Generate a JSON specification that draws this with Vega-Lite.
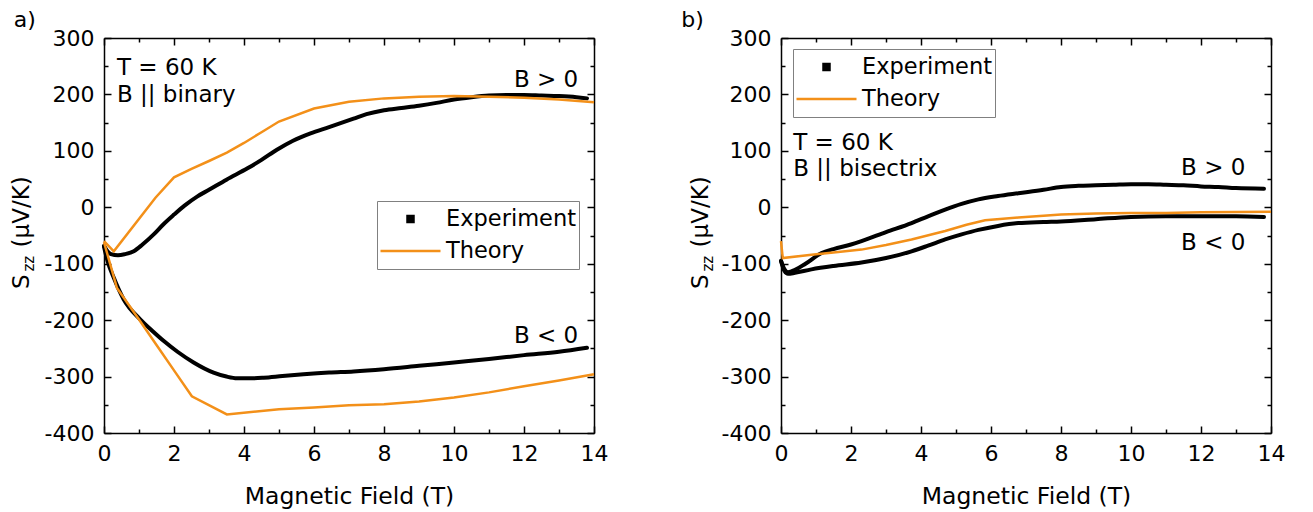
{
  "$schema": "https://vega.github.io/schema/vega-lite/v6.json",
  "padding": {"left": 10, "top": 8, "right": 5, "bottom": 5},
  "config": {
    "font": "DejaVu Sans",
    "view": {"stroke": null},
    "axis": {"labelFont": "DejaVu Sans", "titleFont": "DejaVu Sans", "labelColor": "black", "titleColor": "black", "domainColor": "black", "tickColor": "black", "domainWidth": 1.5, "tickWidth": 1.5, "grid": false, "labelFontSize": 22, "titleFontSize": 23.5, "titleFontWeight": "normal"},
    "text": {"font": "DejaVu Sans", "color": "black"}
  },
  "datasets": {
    "expA": [
      {"t":0,"v":-68,"b":"pos"},{"t":0.1,"v":-78,"b":"pos"},{"t":0.2,"v":-83,"b":"pos"},{"t":0.4,"v":-85,"b":"pos"},{"t":0.6,"v":-83,"b":"pos"},{"t":0.85,"v":-78,"b":"pos"},{"t":1.1,"v":-66,"b":"pos"},{"t":1.42,"v":-48,"b":"pos"},{"t":1.7,"v":-30,"b":"pos"},{"t":2,"v":-13,"b":"pos"},{"t":2.3,"v":3,"b":"pos"},{"t":2.66,"v":19,"b":"pos"},{"t":3,"v":31,"b":"pos"},{"t":3.5,"v":49,"b":"pos"},{"t":4.1,"v":69,"b":"pos"},{"t":4.5,"v":84,"b":"pos"},{"t":4.94,"v":102,"b":"pos"},{"t":5.4,"v":118,"b":"pos"},{"t":5.9,"v":131,"b":"pos"},{"t":6.43,"v":142,"b":"pos"},{"t":7.13,"v":157,"b":"pos"},{"t":7.5,"v":165,"b":"pos"},{"t":8,"v":172,"b":"pos"},{"t":8.5,"v":176,"b":"pos"},{"t":9,"v":180,"b":"pos"},{"t":9.5,"v":185,"b":"pos"},{"t":10,"v":191,"b":"pos"},{"t":10.5,"v":195,"b":"pos"},{"t":11,"v":198,"b":"pos"},{"t":11.5,"v":199,"b":"pos"},{"t":12,"v":199,"b":"pos"},{"t":12.5,"v":198,"b":"pos"},{"t":13,"v":197,"b":"pos"},{"t":13.5,"v":195,"b":"pos"},{"t":13.8,"v":193,"b":"pos"},
      {"t":0,"v":-70,"b":"neg"},{"t":0.1,"v":-95,"b":"neg"},{"t":0.28,"v":-125,"b":"neg"},{"t":0.56,"v":-163,"b":"neg"},{"t":1.04,"v":-199,"b":"neg"},{"t":1.4,"v":-220,"b":"neg"},{"t":1.71,"v":-237,"b":"neg"},{"t":2.1,"v":-256,"b":"neg"},{"t":2.56,"v":-275,"b":"neg"},{"t":3.13,"v":-293,"b":"neg"},{"t":3.5,"v":-300,"b":"neg"},{"t":3.8,"v":-303,"b":"neg"},{"t":4.2,"v":-303,"b":"neg"},{"t":4.56,"v":-302,"b":"neg"},{"t":5.1,"v":-299,"b":"neg"},{"t":5.7,"v":-296,"b":"neg"},{"t":6.43,"v":-293,"b":"neg"},{"t":7.13,"v":-291,"b":"neg"},{"t":8,"v":-287,"b":"neg"},{"t":9,"v":-281,"b":"neg"},{"t":10,"v":-275,"b":"neg"},{"t":11,"v":-269,"b":"neg"},{"t":12,"v":-262,"b":"neg"},{"t":13,"v":-256,"b":"neg"},{"t":13.8,"v":-249,"b":"neg"}
    ],
    "thA": [
      {"t":0,"v":-60,"b":"pos"},{"t":0.28,"v":-78,"b":"pos"},{"t":1.47,"v":17,"b":"pos"},{"t":2,"v":53,"b":"pos"},{"t":2.5,"v":68,"b":"pos"},{"t":3,"v":82,"b":"pos"},{"t":3.51,"v":97,"b":"pos"},{"t":4,"v":114,"b":"pos"},{"t":4.5,"v":133,"b":"pos"},{"t":5,"v":152,"b":"pos"},{"t":6,"v":175,"b":"pos"},{"t":7,"v":187,"b":"pos"},{"t":8,"v":193,"b":"pos"},{"t":9,"v":196,"b":"pos"},{"t":10,"v":197,"b":"pos"},{"t":11,"v":196,"b":"pos"},{"t":12,"v":194,"b":"pos"},{"t":13,"v":191,"b":"pos"},{"t":14,"v":186,"b":"pos"},
      {"t":0,"v":-62,"b":"neg"},{"t":0.37,"v":-143,"b":"neg"},{"t":1,"v":-199,"b":"neg"},{"t":1.5,"v":-244,"b":"neg"},{"t":2,"v":-289,"b":"neg"},{"t":2.51,"v":-335,"b":"neg"},{"t":3.51,"v":-367,"b":"neg"},{"t":5,"v":-358,"b":"neg"},{"t":6,"v":-355,"b":"neg"},{"t":7,"v":-351,"b":"neg"},{"t":8,"v":-349,"b":"neg"},{"t":9,"v":-344,"b":"neg"},{"t":10,"v":-337,"b":"neg"},{"t":11,"v":-328,"b":"neg"},{"t":12,"v":-317,"b":"neg"},{"t":13,"v":-307,"b":"neg"},{"t":14,"v":-296,"b":"neg"}
    ],
    "expB": [
      {"t":0,"v":-95,"b":"pos"},{"t":0.1,"v":-110,"b":"pos"},{"t":0.2,"v":-115,"b":"pos"},{"t":0.4,"v":-111,"b":"pos"},{"t":0.7,"v":-100,"b":"pos"},{"t":1.16,"v":-81,"b":"pos"},{"t":1.5,"v":-74,"b":"pos"},{"t":2,"v":-66,"b":"pos"},{"t":2.3,"v":-60,"b":"pos"},{"t":3,"v":-44,"b":"pos"},{"t":3.73,"v":-28,"b":"pos"},{"t":4.2,"v":-16,"b":"pos"},{"t":4.69,"v":-4,"b":"pos"},{"t":5.16,"v":6,"b":"pos"},{"t":5.64,"v":14,"b":"pos"},{"t":6.2,"v":20,"b":"pos"},{"t":6.78,"v":25,"b":"pos"},{"t":7.5,"v":31,"b":"pos"},{"t":8,"v":36,"b":"pos"},{"t":8.5,"v":38,"b":"pos"},{"t":9,"v":39,"b":"pos"},{"t":9.5,"v":40,"b":"pos"},{"t":10,"v":41,"b":"pos"},{"t":10.5,"v":41,"b":"pos"},{"t":11,"v":40,"b":"pos"},{"t":11.5,"v":39,"b":"pos"},{"t":12,"v":37,"b":"pos"},{"t":12.5,"v":36,"b":"pos"},{"t":13,"v":34,"b":"pos"},{"t":13.8,"v":33,"b":"pos"},
      {"t":0,"v":-95,"b":"neg"},{"t":0.1,"v":-113,"b":"neg"},{"t":0.2,"v":-118,"b":"neg"},{"t":0.4,"v":-116,"b":"neg"},{"t":0.87,"v":-110,"b":"neg"},{"t":1.5,"v":-104,"b":"neg"},{"t":2.3,"v":-98,"b":"neg"},{"t":3,"v":-90,"b":"neg"},{"t":3.73,"v":-78,"b":"neg"},{"t":4.2,"v":-68,"b":"neg"},{"t":4.69,"v":-57,"b":"neg"},{"t":5.16,"v":-48,"b":"neg"},{"t":5.64,"v":-40,"b":"neg"},{"t":6.2,"v":-33,"b":"neg"},{"t":6.78,"v":-28,"b":"neg"},{"t":7.5,"v":-26,"b":"neg"},{"t":8,"v":-25,"b":"neg"},{"t":9,"v":-21,"b":"neg"},{"t":10,"v":-17,"b":"neg"},{"t":11,"v":-16,"b":"neg"},{"t":12,"v":-16,"b":"neg"},{"t":13,"v":-16,"b":"neg"},{"t":13.8,"v":-17,"b":"neg"}
    ],
    "thB": [
      {"t":0,"v":-60,"b":"one"},{"t":0.05,"v":-90,"b":"one"},{"t":0.87,"v":-84,"b":"one"},{"t":1.5,"v":-80,"b":"one"},{"t":2.3,"v":-75,"b":"one"},{"t":3,"v":-67,"b":"one"},{"t":3.73,"v":-57,"b":"one"},{"t":4.69,"v":-42,"b":"one"},{"t":5.3,"v":-31,"b":"one"},{"t":5.83,"v":-23,"b":"one"},{"t":6.78,"v":-18,"b":"one"},{"t":7.5,"v":-15,"b":"one"},{"t":8,"v":-13,"b":"one"},{"t":9,"v":-11,"b":"one"},{"t":10,"v":-10,"b":"one"},{"t":11,"v":-10,"b":"one"},{"t":12,"v":-9,"b":"one"},{"t":13,"v":-8.5,"b":"one"},{"t":14,"v":-8,"b":"one"}
    ]
  },
  "hconcat": [
    {
      "width": 490, "height": 395,
      "layer": [
        {"data": {"name": "expA"}, "mark": {"type": "line", "strokeWidth": 4, "interpolate": "monotone", "strokeCap": "round", "strokeJoin": "round"},
         "encoding": {
           "x": {"field": "t", "type": "quantitative", "scale": {"domain": [0, 14], "nice": false, "zero": false},
                 "axis": {"orient": "bottom", "values": [0,1,2,3,4,5,6,7,8,9,10,11,12,13,14], "tickSize": {"condition": {"test": "datum.value % 2 === 0", "value": -7}, "value": -4}, "labelExpr": "datum.value % 2 === 0 ? '' + datum.value : ''", "labelPadding": 17, "labelOverlap": false, "labelFlush": false, "title": "Magnetic Field (T)", "titlePadding": 17}},
           "y": {"field": "v", "type": "quantitative", "scale": {"domain": [-400, 300], "nice": false, "zero": false},
                 "axis": {"orient": "left", "values": [-400,-350,-300,-250,-200,-150,-100,-50,0,50,100,150,200,250,300], "tickSize": {"condition": {"test": "datum.value % 100 === 0", "value": -7}, "value": -4}, "labelExpr": "datum.value % 100 === 0 ? '' + datum.value : ''", "labelPadding": 17, "labelOverlap": false, "labelFlush": false, "title": null}},
           "detail": {"field": "b"},
           "color": {"datum": "Experiment", "type": "nominal", "scale": {"domain": ["Experiment", "Theory"], "range": ["#000000", "#f39019"]},
                     "legend": {"title": null, "orient": "none", "legendX": 273, "legendY": 163, "direction": "vertical", "symbolType": "stroke", "symbolSize": 3600, "symbolStrokeWidth": 2.5, "clipHeight": 32, "padding": 2, "rowPadding": 0, "labelFont": "DejaVu Sans", "labelFontSize": 22.5, "labelColor": "black", "labelOffset": 4, "labelLimit": 400, "strokeColor": "#808080", "fillColor": "white",
                                "encode": {"symbols": {"update": {"shape": {"signal": "datum.value === 'Experiment' ? 'M-0.1,-0.1H0.1V0.1H-0.1Z' : 'stroke'"}, "fill": {"signal": "datum.value === 'Experiment' ? 'black' : 'transparent'"}, "stroke": {"signal": "datum.value === 'Experiment' ? 'transparent' : '#f39019'"}, "strokeWidth": {"value": 2.5}, "opacity": {"value": 1}}}}}}
         }},
        {"data": {"name": "thA"}, "mark": {"type": "line", "strokeWidth": 2.5},
         "encoding": {
           "x": {"field": "t", "type": "quantitative", "scale": {"domain": [0, 14], "nice": false, "zero": false},
                 "axis": {"orient": "top", "values": [0,1,2,3,4,5,6,7,8,9,10,11,12,13,14], "tickSize": {"condition": {"test": "datum.value % 2 === 0", "value": -7}, "value": -4}, "labels": false, "title": null}},
           "y": {"field": "v", "type": "quantitative", "scale": {"domain": [-400, 300], "nice": false, "zero": false},
                 "axis": {"orient": "right", "values": [-400,-350,-300,-250,-200,-150,-100,-50,0,50,100,150,200,250,300], "tickSize": {"condition": {"test": "datum.value % 100 === 0", "value": -7}, "value": -4}, "labels": false, "title": null}},
           "detail": {"field": "b"},
           "color": {"datum": "Theory", "type": "nominal", "legend": null}
         }},
        {"data": {"values": [{}]}, "mark": {"type": "text", "text": "T = 60 K", "fontSize": 23, "align": "left", "baseline": "alphabetic"},
         "encoding": {"x": {"datum": 0.37, "type": "quantitative", "axis": null}, "y": {"datum": 234, "type": "quantitative", "axis": null}}},
        {"data": {"values": [{}]}, "mark": {"type": "text", "text": "B || binary", "fontSize": 23, "align": "left", "baseline": "alphabetic"},
         "encoding": {"x": {"datum": 0.37, "type": "quantitative", "axis": null}, "y": {"datum": 186, "type": "quantitative", "axis": null}}},
        {"data": {"values": [{}]}, "mark": {"type": "text", "text": "B > 0", "fontSize": 23, "align": "center", "baseline": "alphabetic"},
         "encoding": {"x": {"datum": 12.63, "type": "quantitative", "axis": null}, "y": {"datum": 214, "type": "quantitative", "axis": null}}},
        {"data": {"values": [{}]}, "mark": {"type": "text", "text": "B < 0", "fontSize": 23, "align": "center", "baseline": "alphabetic"},
         "encoding": {"x": {"datum": 12.63, "type": "quantitative", "axis": null}, "y": {"datum": -240, "type": "quantitative", "axis": null}}},
        {"data": {"values": [{}]}, "mark": {"type": "text", "text": "a)", "fontSize": 22, "align": "left", "baseline": "alphabetic"},
         "encoding": {"x": {"datum": -2.58, "type": "quantitative", "axis": null}, "y": {"datum": 320, "type": "quantitative", "axis": null}}},
        {"data": {"values": [{}]}, "mark": {"type": "text", "text": "S", "fontSize": 23, "angle": 270, "align": "center", "baseline": "alphabetic"},
         "encoding": {"x": {"datum": -2.15, "type": "quantitative", "axis": null}, "y": {"datum": -132, "type": "quantitative", "axis": null}}},
        {"data": {"values": [{}]}, "mark": {"type": "text", "text": "zz", "fontSize": 15, "angle": 270, "align": "center", "baseline": "alphabetic"},
         "encoding": {"x": {"datum": -2.0, "type": "quantitative", "axis": null}, "y": {"datum": -100, "type": "quantitative", "axis": null}}},
        {"data": {"values": [{}]}, "mark": {"type": "text", "text": "(μV/K)", "fontSize": 23, "angle": 270, "align": "center", "baseline": "alphabetic"},
         "encoding": {"x": {"datum": -2.15, "type": "quantitative", "axis": null}, "y": {"datum": -8, "type": "quantitative", "axis": null}}}
      ],
      "resolve": {"axis": {"x": "independent", "y": "independent"}}
    },
    {
      "width": 490, "height": 395,
      "layer": [
        {"data": {"name": "expB"}, "mark": {"type": "line", "strokeWidth": 4, "interpolate": "monotone", "strokeCap": "round", "strokeJoin": "round"},
         "encoding": {
           "x": {"field": "t", "type": "quantitative", "scale": {"domain": [0, 14], "nice": false, "zero": false},
                 "axis": {"orient": "bottom", "values": [0,1,2,3,4,5,6,7,8,9,10,11,12,13,14], "tickSize": {"condition": {"test": "datum.value % 2 === 0", "value": -7}, "value": -4}, "labelExpr": "datum.value % 2 === 0 ? '' + datum.value : ''", "labelPadding": 17, "labelOverlap": false, "labelFlush": false, "title": "Magnetic Field (T)", "titlePadding": 17}},
           "y": {"field": "v", "type": "quantitative", "scale": {"domain": [-400, 300], "nice": false, "zero": false},
                 "axis": {"orient": "left", "values": [-400,-350,-300,-250,-200,-150,-100,-50,0,50,100,150,200,250,300], "tickSize": {"condition": {"test": "datum.value % 100 === 0", "value": -7}, "value": -4}, "labelExpr": "datum.value % 100 === 0 ? '' + datum.value : ''", "labelPadding": 17, "labelOverlap": false, "labelFlush": false, "title": null}},
           "detail": {"field": "b"},
           "color": {"datum": "Experiment", "type": "nominal", "scale": {"domain": ["Experiment", "Theory"], "range": ["#000000", "#f39019"]},
                     "legend": {"title": null, "orient": "none", "legendX": 12, "legendY": 11, "direction": "vertical", "symbolType": "stroke", "symbolSize": 3600, "symbolStrokeWidth": 2.5, "clipHeight": 32, "padding": 2, "rowPadding": 0, "labelFont": "DejaVu Sans", "labelFontSize": 22.5, "labelColor": "black", "labelOffset": 4, "labelLimit": 400, "strokeColor": "#808080", "fillColor": "white",
                                "encode": {"symbols": {"update": {"shape": {"signal": "datum.value === 'Experiment' ? 'M-0.1,-0.1H0.1V0.1H-0.1Z' : 'stroke'"}, "fill": {"signal": "datum.value === 'Experiment' ? 'black' : 'transparent'"}, "stroke": {"signal": "datum.value === 'Experiment' ? 'transparent' : '#f39019'"}, "strokeWidth": {"value": 2.5}, "opacity": {"value": 1}}}}}}
         }},
        {"data": {"name": "thB"}, "mark": {"type": "line", "strokeWidth": 2.5},
         "encoding": {
           "x": {"field": "t", "type": "quantitative", "scale": {"domain": [0, 14], "nice": false, "zero": false},
                 "axis": {"orient": "top", "values": [0,1,2,3,4,5,6,7,8,9,10,11,12,13,14], "tickSize": {"condition": {"test": "datum.value % 2 === 0", "value": -7}, "value": -4}, "labels": false, "title": null}},
           "y": {"field": "v", "type": "quantitative", "scale": {"domain": [-400, 300], "nice": false, "zero": false},
                 "axis": {"orient": "right", "values": [-400,-350,-300,-250,-200,-150,-100,-50,0,50,100,150,200,250,300], "tickSize": {"condition": {"test": "datum.value % 100 === 0", "value": -7}, "value": -4}, "labels": false, "title": null}},
           "detail": {"field": "b"},
           "color": {"datum": "Theory", "type": "nominal", "legend": null}
         }},
        {"data": {"values": [{}]}, "mark": {"type": "text", "text": "T = 60 K", "fontSize": 23, "align": "left", "baseline": "alphabetic"},
         "encoding": {"x": {"datum": 0.35, "type": "quantitative", "axis": null}, "y": {"datum": 101, "type": "quantitative", "axis": null}}},
        {"data": {"values": [{}]}, "mark": {"type": "text", "text": "B || bisectrix", "fontSize": 23, "align": "left", "baseline": "alphabetic"},
         "encoding": {"x": {"datum": 0.35, "type": "quantitative", "axis": null}, "y": {"datum": 55, "type": "quantitative", "axis": null}}},
        {"data": {"values": [{}]}, "mark": {"type": "text", "text": "B > 0", "fontSize": 23, "align": "center", "baseline": "alphabetic"},
         "encoding": {"x": {"datum": 12.35, "type": "quantitative", "axis": null}, "y": {"datum": 58, "type": "quantitative", "axis": null}}},
        {"data": {"values": [{}]}, "mark": {"type": "text", "text": "B < 0", "fontSize": 23, "align": "center", "baseline": "alphabetic"},
         "encoding": {"x": {"datum": 12.35, "type": "quantitative", "axis": null}, "y": {"datum": -75, "type": "quantitative", "axis": null}}},
        {"data": {"values": [{}]}, "mark": {"type": "text", "text": "b)", "fontSize": 22, "align": "left", "baseline": "alphabetic"},
         "encoding": {"x": {"datum": -2.85, "type": "quantitative", "axis": null}, "y": {"datum": 320, "type": "quantitative", "axis": null}}},
        {"data": {"values": [{}]}, "mark": {"type": "text", "text": "S", "fontSize": 23, "angle": 270, "align": "center", "baseline": "alphabetic"},
         "encoding": {"x": {"datum": -2.1, "type": "quantitative", "axis": null}, "y": {"datum": -132, "type": "quantitative", "axis": null}}},
        {"data": {"values": [{}]}, "mark": {"type": "text", "text": "zz", "fontSize": 15, "angle": 270, "align": "center", "baseline": "alphabetic"},
         "encoding": {"x": {"datum": -1.95, "type": "quantitative", "axis": null}, "y": {"datum": -100, "type": "quantitative", "axis": null}}},
        {"data": {"values": [{}]}, "mark": {"type": "text", "text": "(μV/K)", "fontSize": 23, "angle": 270, "align": "center", "baseline": "alphabetic"},
         "encoding": {"x": {"datum": -2.1, "type": "quantitative", "axis": null}, "y": {"datum": -8, "type": "quantitative", "axis": null}}}
      ],
      "resolve": {"axis": {"x": "independent", "y": "independent"}}
    }
  ],
  "spacing": 187,
  "bounds": "flush",
  "resolve": {"scale": {"color": "independent"}, "legend": {"color": "independent"}}
}
